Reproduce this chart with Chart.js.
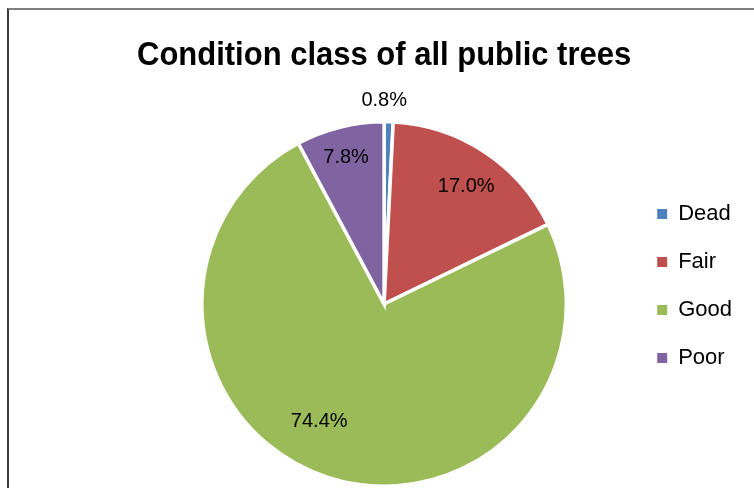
<!DOCTYPE html>
<html>
<head>
<meta charset="utf-8">
<script src="https://cdn.jsdelivr.net/npm/chart.js@4/dist/chart.umd.min.js"></script>
<style>
  html, body { margin: 0; padding: 0; background: #fff; overflow: hidden; }
  #wrap { position: relative; width: 754px; height: 488px; }
  #frame { position: absolute; left: 7px; top: 8px; right: 0; bottom: 0;
           border-top: 2px solid #7f7f7f; border-left: 2px solid #3a3a3a; }
  canvas { position: absolute; left: 0; top: 0; }
</style>
</head>
<body>
<div id="wrap">
  <div id="frame"></div>
  <canvas id="c" width="754" height="488"></canvas>
</div>
<script>
// ---- data ----
const titleText = 'Condition class of all public trees';
const categories = ['Dead', 'Fair', 'Good', 'Poor'];
const values = [0.8, 17.0, 74.4, 7.8];
const colors = ['#4F81BD', '#C0504D', '#9BBB59', '#8064A2'];

// label placement styles (radius factor, angle shift in degrees)
const labelRadius = [1.115, 0.786, 0.737, 0.83];
const labelAngleShift = [-1.4, 1.5, 10.9, -0.5];

const FONT = '"Liberation Sans", Arial, sans-serif';

const sliceLabels = {
  id: 'sliceLabels',
  afterDatasetsDraw(chart) {
    const ctx = chart.ctx;
    const meta = chart.getDatasetMeta(0);
    ctx.save();
    ctx.font = '20px ' + FONT;
    ctx.fillStyle = '#000';
    ctx.textAlign = 'center';
    ctx.textBaseline = 'middle';
    meta.data.forEach((arc, i) => {
      const p = arc.getProps(['x', 'y', 'startAngle', 'endAngle', 'outerRadius'], true);
      const a = (p.startAngle + p.endAngle) / 2 + labelAngleShift[i] * Math.PI / 180;
      const r = p.outerRadius * labelRadius[i];
      ctx.fillText(values[i].toFixed(1) + '%', p.x + Math.cos(a) * r, p.y + Math.sin(a) * r);
    });
    ctx.restore();
  }
};

new Chart(document.getElementById('c'), {
  type: 'pie',
  data: {
    labels: categories,
    datasets: [{
      data: values,
      backgroundColor: colors,
      borderColor: '#ffffff',
      borderWidth: 3.5,
      borderJoinStyle: 'miter'
    }]
  },
  options: {
    responsive: false,
    animation: false,
    events: [],
    layout: { padding: { left: 137, right: 12, top: 0, bottom: 0 } },
    plugins: {
      tooltip: { enabled: false },
      title: {
        display: true,
        text: titleText,
        fullSize: false,
        color: '#000',
        font: { family: FONT, size: 33.5, weight: 'bold', lineHeight: 1.2 },
        padding: { top: 36, bottom: 43.8 }
      },
      legend: {
        display: true,
        position: 'right',
        fullSize: true,
        title: { display: true, text: ' ', font: { size: 10, lineHeight: 1 }, padding: { top: 37, bottom: 37 } },
        labels: {
          color: '#000',
          font: { family: FONT, size: 22 },
          boxWidth: 10,
          boxHeight: 10,
          padding: 26,
          generateLabels(chart) {
            const items = Chart.controllers.pie.overrides.plugins.legend.labels.generateLabels(chart);
            items.forEach(it => { it.lineWidth = 0; it.strokeStyle = it.fillStyle; });
            return items;
          }
        }
      }
    }
  },
  plugins: [sliceLabels]
});
</script>
</body>
</html>
